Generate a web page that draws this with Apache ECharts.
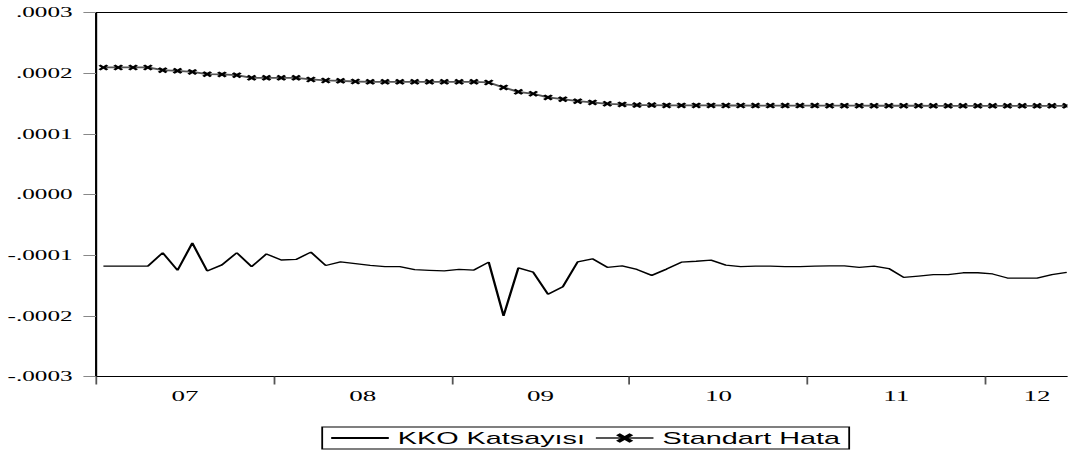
<!DOCTYPE html>
<html>
<head>
<meta charset="utf-8">
<script src="https://cdn.jsdelivr.net/npm/echarts@6/dist/echarts.min.js"></script>
<style>
  html, body { margin: 0; padding: 0; background: #fff; overflow: hidden; }
  /* the source graph is stretched sideways, so the chart is drawn narrow and scaled */
  #chart { width: 593.33px; height: 455px; transform: scaleX(1.8); transform-origin: 0 0; }
</style>
</head>
<body>
<div id="chart"></div>
<script>
// monthly, Jan 2007 .. Jul 2012 (the last month falls outside the picture)
const nMonths = 67
const yearLabels = ['07', '08', '09', '10', '11', '12']

// KKO Katsayısı
const kko = [
  -0.000118, -0.000118, -0.000118, -0.000118, -0.000096, -0.000125, -0.000080, -0.000126,
  -0.000116, -0.000096, -0.000119, -0.000098, -0.000108, -0.000107, -0.000095, -0.000117,
  -0.000111, -0.000114, -0.000117, -0.000119, -0.000119, -0.000124, -0.000125, -0.000126,
  -0.0001235, -0.0001245, -0.0001115, -0.000200, -0.000121, -0.000128, -0.0001645, -0.000152,
  -0.000111, -0.000106, -0.000120, -0.0001175, -0.0001235, -0.0001333, -0.000123, -0.0001115,
  -0.000110, -0.0001082, -0.0001164, -0.000119, -0.000118, -0.000118, -0.000119, -0.000119,
  -0.000118, -0.0001175, -0.0001175, -0.000120, -0.000118, -0.000122, -0.0001366, -0.0001344,
  -0.0001322, -0.0001322, -0.000129, -0.000129, -0.000131, -0.0001377, -0.0001377, -0.0001377,
  -0.0001322, -0.0001284
]

// Standart Hata
const stdErr = [
  0.0002094, 0.0002094, 0.0002094, 0.0002094, 0.0002049, 0.0002038, 0.0002021, 0.0001984,
  0.0001979, 0.0001967, 0.0001923, 0.0001923, 0.0001923, 0.0001923, 0.0001896, 0.000188,
  0.0001873, 0.0001863, 0.0001857, 0.0001857, 0.0001857, 0.0001857, 0.0001857, 0.0001857,
  0.0001857, 0.0001857, 0.0001847, 0.0001765, 0.0001692, 0.000166, 0.000160, 0.0001572,
  0.0001539, 0.0001518, 0.0001495, 0.0001485, 0.0001474, 0.0001474, 0.0001469, 0.0001469,
  0.0001468, 0.0001468, 0.0001467, 0.0001467, 0.0001466, 0.0001466, 0.0001465, 0.0001465,
  0.0001465, 0.0001464, 0.0001464, 0.0001464, 0.0001463, 0.0001463, 0.0001463, 0.0001463,
  0.0001462, 0.0001462, 0.0001462, 0.0001462, 0.0001462, 0.0001462, 0.0001462, 0.0001462,
  0.0001462, 0.0001462
]

// year boundaries and the middle of each year's visible part
const yearStarts = yearLabels.map((_, i) => i * 12)
const yearMids = yearStarts.map(s => (s + Math.min(s + 12, nMonths)) / 2)

// each month is drawn in the middle of its slot
const toPoints = arr => arr.map((v, i) => [i + 0.5, v])

const crossPath = 'path://M0,2.2L2.2,0L5,2.8L7.8,0L10,2.2L7.2,5L10,7.8L7.8,10L5,7.2L2.2,10L0,7.8L2.8,5Z'
const serif = 'Times New Roman'

const chart = echarts.init(document.getElementById('chart'), null, { renderer: 'svg' })

chart.setOption({
  animation: false,
  grid: {
    left: 53.33,
    top: 12.5,
    width: nMonths * 14.82 / 1.8,
    height: 364,
    outerBoundsMode: 'none',
    containLabel: false,
    show: true,
    borderColor: '#000',
    borderWidth: 1
  },
  legend: {
    left: 179,
    top: 427,
    orient: 'horizontal',
    padding: [3, 5, 3, 4],
    itemGap: 5,
    itemWidth: 32,
    itemHeight: 12,
    borderColor: '#000',
    borderWidth: 1,
    textStyle: { fontFamily: 'Arial', fontSize: 16, color: '#000' },
    data: [
      { name: 'KKO Katsayısı', itemStyle: { opacity: 0 } },
      { name: 'Standart Hata' }
    ]
  },
  xAxis: {
    type: 'value',
    min: 0,
    max: nMonths,
    axisLine: { onZero: false, lineStyle: { color: '#000', width: 1 } },
    axisTick: { customValues: yearStarts, length: 8, lineStyle: { color: '#555' } },
    axisLabel: {
      customValues: yearMids,
      margin: 12,
      fontFamily: serif,
      fontSize: 15,
      color: '#000',
      formatter: v => {
        const j = yearMids.findIndex(m => Math.abs(m - v) < 1e-6)
        return j >= 0 ? yearLabels[j] : ''
      }
    },
    splitLine: { show: false }
  },
  yAxis: {
    type: 'value',
    min: -0.0003,
    max: 0.0003,
    interval: 0.0001,
    axisLine: { show: true, onZero: false, lineStyle: { color: '#000', width: 1 } },
    axisTick: { show: true, length: 7, lineStyle: { color: '#888' } },
    axisLabel: {
      margin: 13,
      fontFamily: serif,
      fontSize: 14,
      color: '#000',
      formatter: v => {
        if (Math.abs(v) < 1e-9) return '.0000'
        return v.toFixed(4).replace(/^(-?)0\./, '$1.')
      }
    },
    splitLine: { show: false }
  },
  series: [
    {
      name: 'KKO Katsayısı',
      type: 'line',
      data: toPoints(kko),
      symbol: 'none',
      lineStyle: { color: '#000', width: 1.3 },
      itemStyle: { color: '#000' }
    },
    {
      name: 'Standart Hata',
      type: 'line',
      data: toPoints(stdErr),
      symbol: crossPath,
      symbolSize: [5.5, 6],
      showAllSymbol: true,
      lineStyle: { color: '#555', width: 1.8 },
      itemStyle: { color: '#000' }
    }
  ]
})
</script>
</body>
</html>
